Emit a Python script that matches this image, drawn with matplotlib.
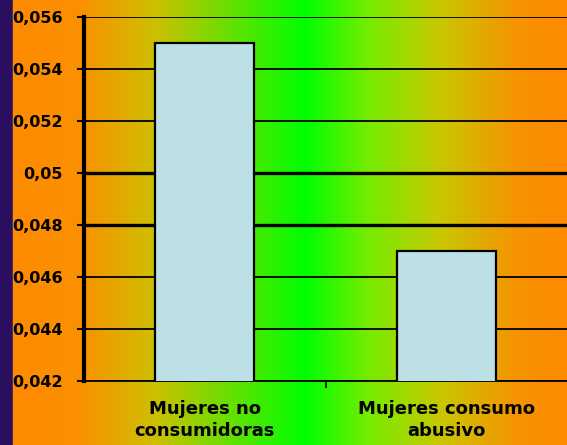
import numpy as np
import matplotlib.pyplot as plt

# Datos
categorias = ["Mujeres no\nconsumidoras", "Mujeres consumo\nabusivo"]
valores = [0.055, 0.047]
ticks_y = [0.042, 0.044, 0.046, 0.048, 0.05, 0.052, 0.054, 0.056]
etiquetas_y = ["0,042", "0,044", "0,046", "0,048", "0,05", "0,052", "0,054", "0,056"]

fig = plt.figure(figsize=(5.67, 4.45), dpi=100)

# Fondo degradado naranja-verde-naranja con franja morada a la izquierda
fondo = fig.add_axes([0, 0, 1, 1], zorder=-10)
xs = np.linspace(0, 1, 567)
pos = np.array([0, 12, 12.1, 80, 155, 305, 370, 440, 515, 567]) / 567
r = [42, 42, 255, 250, 205, 0, 120, 200, 245, 255]
g = [15, 15, 138, 145, 192, 255, 235, 200, 148, 138]
b = [95, 95, 0, 0, 0, 0, 0, 0, 0, 0]
img = np.stack([np.interp(xs, pos, r), np.interp(xs, pos, g), np.interp(xs, pos, b)], axis=-1) / 255
fondo.imshow(img[np.newaxis, :, :], aspect="auto", extent=[0, 1, 0, 1])
fondo.axis("off")

ax = fig.add_axes([84 / 567, 1 - 381 / 445, 1 - 84 / 567, (381 - 17) / 445])
ax.set_facecolor("none")

x = np.arange(len(categorias))
ax.bar(x, valores, width=0.41, color="#bde0e6", edgecolor="black", linewidth=1.6, zorder=3)

ax.set_ylim(0.042, 0.056)
ax.set_xlim(-0.5, 1.5)
ax.set_yticks(ticks_y)
ax.set_yticklabels(etiquetas_y, fontsize=11.5, fontweight="bold", family="DejaVu Sans")
for t in ticks_y:
    lw = 2.4 if t in (0.05, 0.048) else 1.3
    ax.axhline(t, color="black", linewidth=lw, zorder=1)

ax.set_xticks(x)
ax.set_xticklabels(categorias, fontsize=13, fontweight="bold", family="DejaVu Sans", linespacing=1.25)
ax.tick_params(axis="x", length=0, pad=14)
ax.set_xticks([0.5], minor=True)
ax.tick_params(axis="x", which="minor", length=5, width=1.2, direction="out")
ax.tick_params(axis="y", length=5, width=1.5, direction="out", pad=10)

for s in ["top", "right"]:
    ax.spines[s].set_visible(False)
ax.spines["left"].set_linewidth(3)
ax.spines["bottom"].set_linewidth(1.3)

plt.savefig("out.png", dpi=100)
